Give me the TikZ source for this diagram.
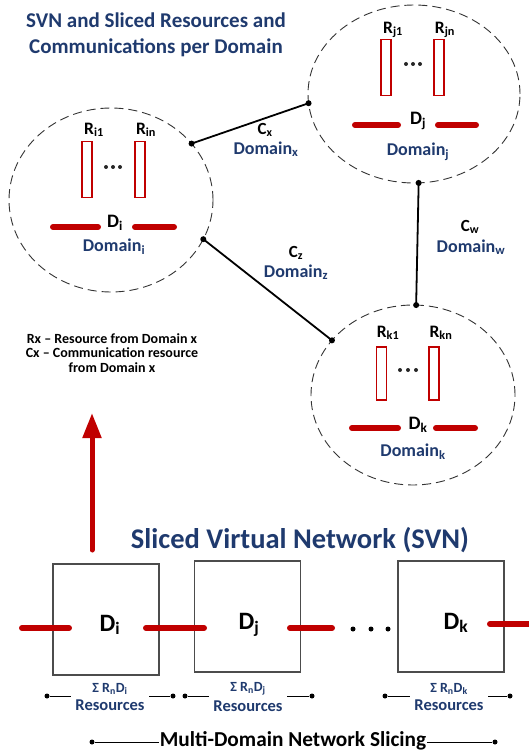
\documentclass[tikz,border=0pt]{standalone}
\usepackage{fontspec}
\setmainfont{Carlito}
\usetikzlibrary{shapes.geometric,arrows.meta}
\definecolor{navy}{HTML}{1F3A6E}
\definecolor{dred}{HTML}{C00000}
\newcommand{\fs}[1]{\fontsize{#1}{#1}\selectfont\bfseries}
\tikzset{
  domcircle/.style={ellipse,draw=black!80,line width=0.9pt,dash pattern=on 9pt off 5pt,inner sep=0pt,outer sep=0pt},
  rrect/.style={draw=dred,line width=1.1pt,minimum width=10pt,minimum height=56pt,inner sep=0pt},
  redbar/.style={dred,line width=6pt,line cap=round},
  conn/.style={black,line width=1.8pt},
  jdot/.style={circle,fill=black,inner sep=0pt,minimum size=6pt},
  sdot/.style={circle,fill=black,inner sep=0pt,minimum size=5pt},
  rdot/.style={circle,fill=black!85,inner sep=0pt,minimum size=4pt},
  navytxt/.style={text=navy,inner sep=1pt},
  blacktxt/.style={text=black,inner sep=1pt},
  svnbox/.style={draw=black!70,line width=1.1pt,minimum width=106pt,minimum height=111pt,inner sep=0pt},
  meas/.style={black,line width=0.8pt},
}
\begin{document}
\begin{tikzpicture}[x=1pt,y=-1pt]
\useasboundingbox (0,0) rectangle (529,754);
% title
\node[navytxt,align=center,font=\fs{21}] (title) at (156,35) {SVN and Sliced Resources and\\[5pt]Communications per Domain};
% domain circles
\node[domcircle,minimum width=204pt,minimum height=184pt] (ci) at (111,200) {};
\node[domcircle,minimum width=212pt,minimum height=178pt] (cj) at (414,94) {};
\node[domcircle,minimum width=204pt,minimum height=180pt] (ck) at (413,395) {};
% circle i contents
\node[blacktxt,font=\fs{17.5}] (ri1) at (94,130) {R\textsubscript{i1}};
\node[blacktxt,font=\fs{17.5}] (rin) at (146,130) {R\textsubscript{in}};
\node[rrect] (rei1) at (87,169.5) {};
\node[rrect] (rein) at (140,169.5) {};
\foreach \dx in {-7,0,7} \node[rdot] at ({113+\dx},167) {};
\node[blacktxt,font=\fs{19}] (di) at (115,223) {D\textsubscript{i}};
\draw[redbar] (53,227) -- (98,227);
\draw[redbar] (135,227) -- (174,227);
\node[navytxt,font=\fs{18}] (domi) at (114,247) {Domain\textsubscript{i}};
% circle j contents
\node[blacktxt,font=\fs{17.5}] (rj1) at (393,30) {R\textsubscript{j1}};
\node[blacktxt,font=\fs{17.5}] (rjn) at (445,30) {R\textsubscript{jn}};
\node[rrect] (rej1) at (386,67.5) {};
\node[rrect] (rejn) at (439,67.5) {};
\foreach \dx in {-7,0,7} \node[rdot] at ({413+\dx},64) {};
\node[blacktxt,font=\fs{19}] (dj) at (418,121) {D\textsubscript{j}};
\draw[redbar] (355,125) -- (398,125);
\draw[redbar] (438,125) -- (476,125);
\node[navytxt,font=\fs{18}] (domj) at (418,152) {Domain\textsubscript{j}};
% circle k contents
\node[blacktxt,font=\fs{17.5}] (rk1) at (388,333) {R\textsubscript{k1}};
\node[blacktxt,font=\fs{17.5}] (rkn) at (441,333) {R\textsubscript{kn}};
\node[rrect,minimum height=53pt] (rek1) at (381.5,373.5) {};
\node[rrect,minimum height=53pt] (rekn) at (434,373.5) {};
\node[rdot] at (400,370) {};
\node[rdot] at (408,370) {};
\node[rdot] at (416,370) {};
\node[blacktxt,font=\fs{19}] (dk) at (418,425) {D\textsubscript{k}};
\draw[redbar] (352,428) -- (398,428);
\draw[redbar] (436,428) -- (475,428);
\node[navytxt,font=\fs{18}] (domk) at (413,452) {Domain\textsubscript{k}};
% connectors
\node[jdot] (xa) at (ci.35) {};
\node[jdot] (xb) at (cj.185) {};
\node[jdot] (za) at (ci.-23.6) {};
\node[jdot] (zb) at (ck.146.6) {};
\node[jdot] (wa) at (cj.-87.5) {};
\node[jdot] (wb) at (ck.88) {};
\draw[conn] (xa.center) -- (xb.center);
\draw[conn] (za.center) -- (zb.center);
\draw[conn] (wa.center) -- (wb.center);
\node[blacktxt,font=\fs{17}] (cx) at (265,130) {C\textsubscript{x}};
\node[navytxt,font=\fs{18}] (domx) at (266,149) {Domain\textsubscript{x}};
\node[blacktxt,font=\fs{17}] (cz) at (296,253) {C\textsubscript{z}};
\node[navytxt,font=\fs{18}] (domz) at (296,272) {Domain\textsubscript{z}};
\node[blacktxt,font=\fs{17}] (cw) at (470,227) {C\textsubscript{w}};
\node[navytxt,font=\fs{18}] (domw) at (471,247) {Domain\textsubscript{w}};
% legend
\node[blacktxt,align=center,font=\fs{14}] (legend) at (112,353) {Rx -- Resource from Domain x\\[0.5pt]Cx -- Communication resource\\[0.5pt]from Domain x};
% arrow
\coordinate (arrs) at (92,550);
\coordinate (arre) at (92,413);
\draw[dred,line width=5pt,line cap=round,-{Triangle[width=18pt,length=25pt]}] (arrs) -- (arre);
% SVN
\node[navytxt,font=\fs{28.5}] (svn) at (300,540) {Sliced Virtual Network (SVN)};
\node[svnbox] (bi) at (106,619.5) {};
\node[svnbox] (bj) at (247.5,616.5) {};
\node[svnbox] (bk) at (451,616.5) {};
\node[blacktxt,font=\fs{25}] (bdi) at (110,625) {D\textsubscript{i}};
\node[blacktxt,font=\fs{25}] (bdj) at (249,625) {D\textsubscript{j}};
\node[blacktxt,font=\fs{25}] (bdk) at (456,623) {D\textsubscript{k}};
\coordinate (s1a) at (22,628);
\coordinate (s1b) at (69,628);
\coordinate (s2a) at (146,628);
\coordinate (s2b) at (204,628);
\coordinate (s3a) at (290,628);
\coordinate (s3b) at (332,628);
\coordinate (s4a) at (490,624);
\coordinate (s4b) at (535,624);
\draw[redbar] (s1a) -- (s1b);
\draw[redbar] (s2a) -- (s2b);
\draw[redbar] (s3a) -- (s3b);
\draw[redbar] (s4a) -- (s4b);
\node[sdot] (ch1) at (353,629) {};
\node[sdot] (ch2) at (371,629) {};
\node[sdot] (ch3) at (388,629) {};
% resources measures
\foreach \n/\xl/\xr/\xc/\s in {i/47/173/110/i, j/185/312/248/j, k/385/510/449/k}{
  \node[sdot] (ml\n) at (\xl,696) {};
  \node[sdot] (mr\n) at (\xr,696) {};
  \draw[meas] (ml\n) -- (mr\n);
  \node[navytxt,fill=white,align=center,inner xsep=4pt,inner ysep=1pt] (rs\n) at (\xc,697) {{\fs{14}Σ R\textsubscript{n}D\textsubscript{\s}}\\[4pt]{\fs{16.5}Resources}};
}
% multi-domain
\node[sdot] (mdl) at (92,742) {};
\node[sdot] (mdr) at (495,742) {};
\draw[meas] (mdl) -- (mdr);
\node[blacktxt,fill=white,inner sep=0.5pt,font=\fs{21.3}] (md) at (293,741) {Multi-Domain Network Slicing};
\end{tikzpicture}
\end{document}
